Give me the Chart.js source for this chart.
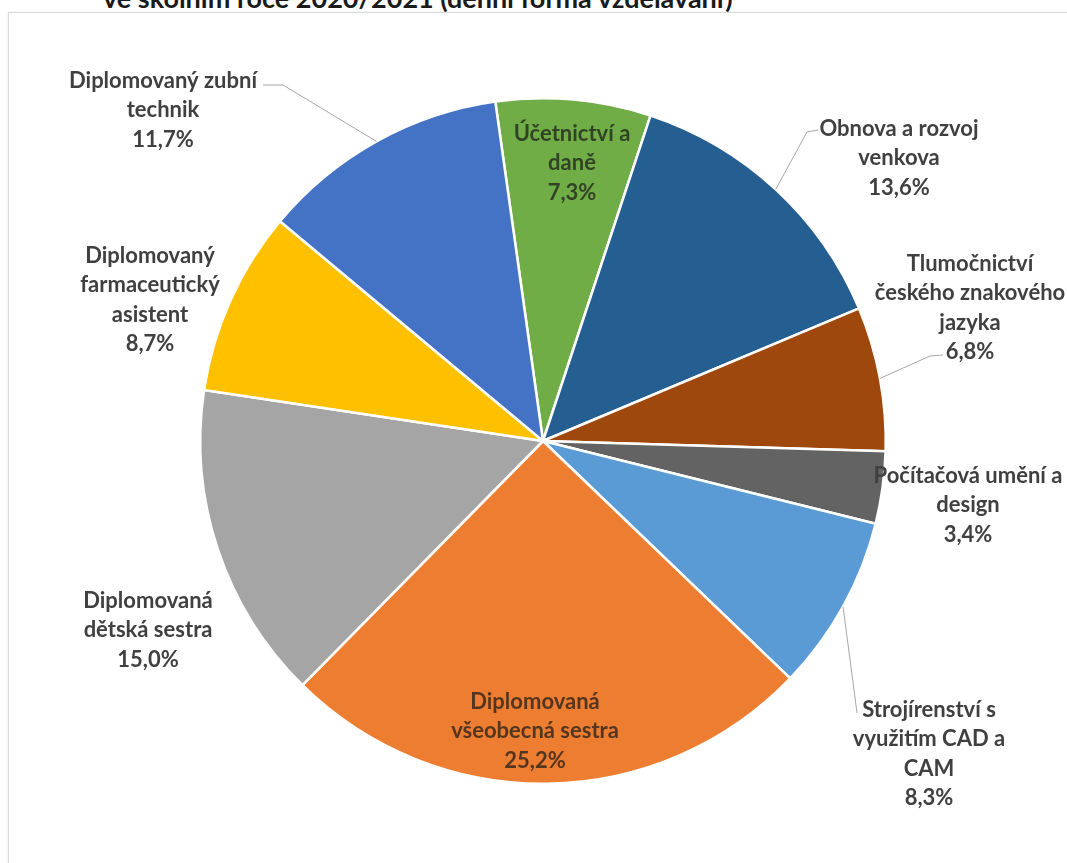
<!DOCTYPE html>
<html lang="cs">
<head>
<meta charset="utf-8">
<script src="https://cdn.jsdelivr.net/npm/chart.js@4.4.1/dist/chart.umd.min.js"></script>
<style>
  html, body { margin: 0; padding: 0; background: #fff; overflow: hidden; }
  #frame { position: absolute; left: 8px; top: 12px; width: 1100px; height: 900px; border: 1px solid #d9d9d9; box-shadow: 0 0 3px rgba(0,0,0,0.08); }
  #title { position: absolute; left: 103px; top: -19px; font: bold 27px Lato, 'Noto Sans', sans-serif; color: #1a1a1a; white-space: nowrap; }
  #wrap { position: absolute; left: 0; top: 0; width: 1067px; height: 863px; }
</style>
</head>
<body>
<div id="title">ve školním roce 2020/2021 (denní forma vzdělávání)</div>
<div id="frame"></div>
<div id="wrap"><canvas id="graf"></canvas></div>
<script>
// obory (v pořadí po směru hodinových ručiček)
const obory = [
  'Účetnictví a daně',
  'Obnova a rozvoj venkova',
  'Tlumočnictví českého znakového jazyka',
  'Počítačová umění a design',
  'Strojírenství s využitím CAD a CAM',
  'Diplomovaná všeobecná sestra',
  'Diplomovaná dětská sestra',
  'Diplomovaný farmaceutický asistent',
  'Diplomovaný zubní technik'
];
const podily = [7.3, 13.6, 6.8, 3.4, 8.3, 25.2, 15.0, 8.7, 11.7];
// řádky popisků tak, jak jsou zalomené v grafu
const popisky = [
  ['Účetnictví a', 'daně'],
  ['Obnova a rozvoj', 'venkova'],
  ['Tlumočnictví', 'českého znakového', 'jazyka'],
  ['Počítačová umění a', 'design'],
  ['Strojírenství s', 'využitím CAD a', 'CAM'],
  ['Diplomovaná', 'všeobecná sestra'],
  ['Diplomovaná', 'dětská sestra'],
  ['Diplomovaný', 'farmaceutický', 'asistent'],
  ['Diplomovaný zubní', 'technik']
];

const barvy = ['#70AD47', '#255E91', '#9E480E', '#636363', '#5B9BD5', '#ED7D31', '#A5A5A5', '#FFC000', '#4472C4'];

// umístění popisků vůči středu koláče (px), vodicí čáry
const rozlozeni = [
  { x: 29, y: -278, inside: true },
  { x: 356, y: -283, leader: [[264, -309], [275, -311]] },
  { x: 427, y: -133, leader: [[387, -85], [400, -86]] },
  { x: 425, y: 64 },
  { x: 386, y: 313, leader: [[314, 272]] },
  { x: -8, y: 290, inside: true },
  { x: -395, y: 189 },
  { x: -393, y: -141 },
  { x: -380, y: -331, leader: [[-260, -356], [-280, -356]] }
];

const fmt = v => v.toFixed(1).replace('.', ',') + '%';

const popiskyPlugin = {
  id: 'popisky',
  afterDatasetsDraw(chart) {
    const ctx = chart.ctx;
    const meta = chart.getDatasetMeta(0);
    const lh = 29.5;
    ctx.save();
    meta.data.forEach((arc, i) => {
      const p = arc.getProps(['x', 'y', 'startAngle', 'endAngle', 'outerRadius'], true);
      const lay = rozlozeni[i];
      const cx = p.x, cy = p.y;
      if (lay.leader) {
        const mid = (p.startAngle + p.endAngle) / 2;
        ctx.beginPath();
        ctx.moveTo(cx + Math.cos(mid) * p.outerRadius, cy + Math.sin(mid) * p.outerRadius);
        lay.leader.forEach(pt => ctx.lineTo(cx + pt[0], cy + pt[1]));
        ctx.strokeStyle = '#a6a6a6';
        ctx.lineWidth = 1;
        ctx.stroke();
      }
      const lines = popisky[i].concat([fmt(podily[i])]);
      ctx.font = 'bold 22px Lato, "Noto Sans", sans-serif';
      ctx.textAlign = 'center';
      ctx.textBaseline = 'middle';
      ctx.fillStyle = lay.inside ? 'rgba(25,25,25,0.72)' : '#404040';
      const top = cy + lay.y - (lines.length - 1) * lh / 2;
      lines.forEach((t, k) => ctx.fillText(t, cx + lay.x, top + k * lh));
    });
    ctx.restore();
  }
};

const ctx = document.getElementById('graf').getContext('2d');
const graf = new Chart(ctx, {
  type: 'pie',
  data: {
    labels: obory,
    datasets: [{
      data: podily,
      backgroundColor: barvy,
      borderColor: '#ffffff',
      borderWidth: 2.5
    }]
  },
  options: {
    responsive: true,
    maintainAspectRatio: false,
    animation: false,
    rotation: -8,
    layout: { padding: { left: 119, right: 100, top: 97, bottom: 78 } },
    plugins: {
      legend: { display: false },
      tooltip: { enabled: false }
    }
  },
  plugins: [popiskyPlugin]
});
</script>
</body>
</html>
